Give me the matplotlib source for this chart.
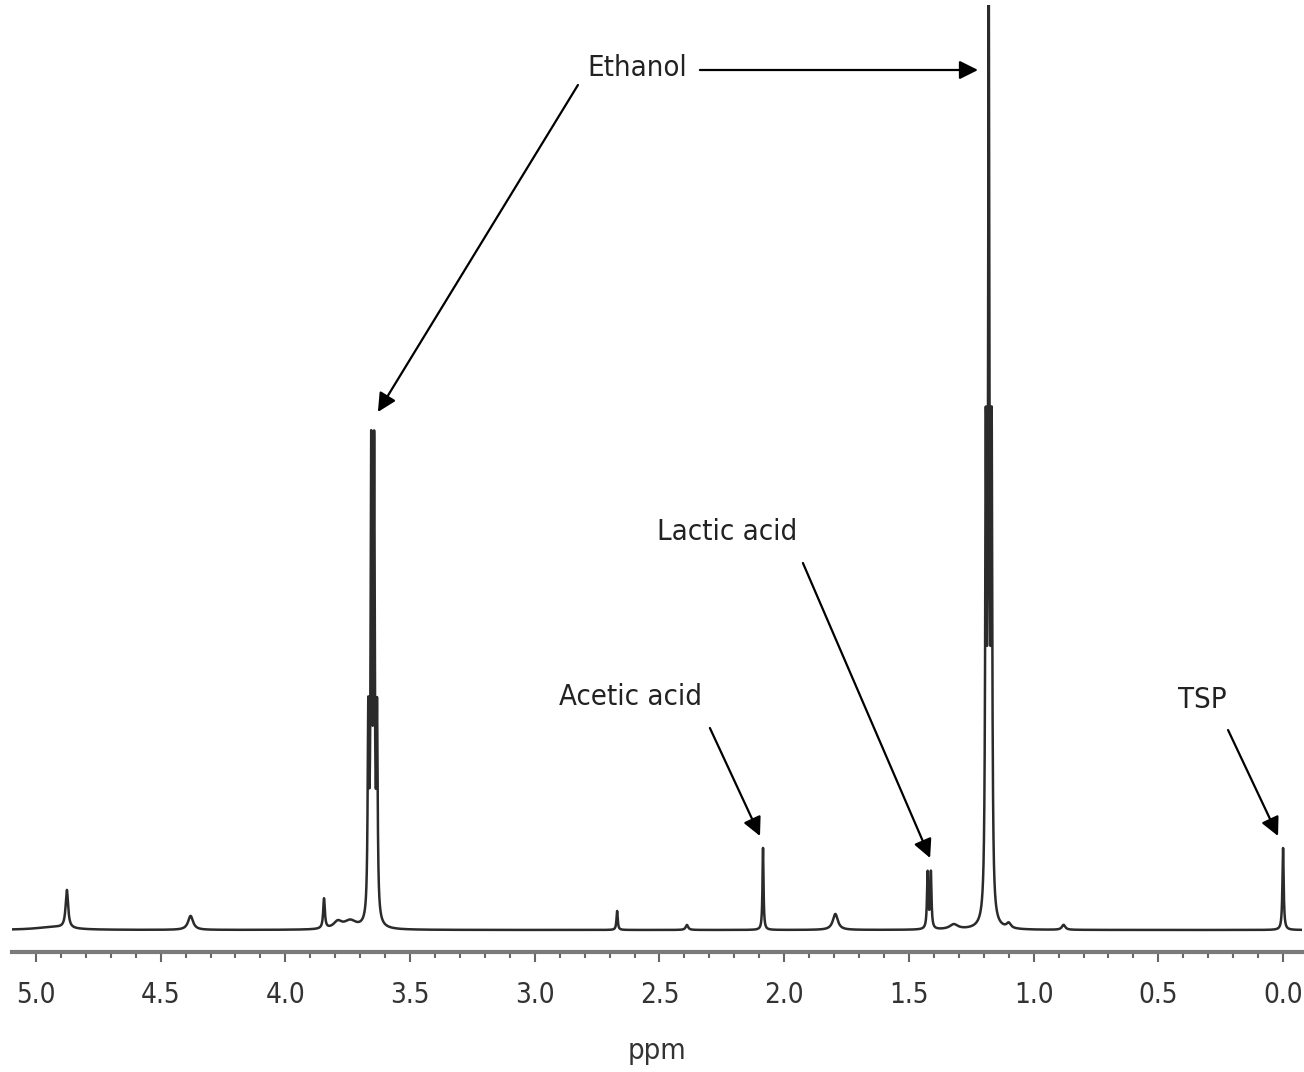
import matplotlib
matplotlib.use('Agg')

import numpy as np
import matplotlib.pyplot as plt

# peak list (ppm, height, half width)
peak_ppm = [4.93, 4.876, 4.38, 3.845, 3.79, 3.74, 3.6675, 3.6558, 3.6442, 3.6325,
            2.67, 2.39, 2.085, 1.795, 1.425, 1.412, 1.32, 1.1917, 1.18, 1.1683,
            1.10, 0.88, 0.0]
peak_height = [3, 38, 14, 30, 7, 8, 195, 455, 455, 195,
               19, 5, 82, 16, 56, 56, 5, 460, 900, 460,
               5, 5, 82]
peak_width = [0.08, 0.006, 0.012, 0.004, 0.02, 0.03, 0.003, 0.003, 0.003, 0.003,
              0.003, 0.006, 0.0025, 0.012, 0.003, 0.003, 0.02, 0.003, 0.003, 0.003,
              0.01, 0.008, 0.003]

labels = ["Ethanol", "Lactic acid", "Acetic acid", "TSP"]
tick_ppm = [5.0, 4.5, 4.0, 3.5, 3.0, 2.5, 2.0, 1.5, 1.0, 0.5, 0.0]

ppm = np.linspace(5.1, -0.08, 30000)
intensity = np.zeros_like(ppm)
for c, h, w in zip(peak_ppm, peak_height, peak_width):
    intensity += h / (1 + ((ppm - c) / w) ** 2)

fig = plt.figure(figsize=(13.04, 10.72), dpi=100)
ax = fig.add_axes([12 / 1304, 120 / 1072, 1290 / 1304, 947 / 1072])
ax.plot(ppm, intensity, color='#2b2b2b', lw=1.8)
ax.set_xlim(5.096, -0.076)
ax.set_ylim(-22, 925)

font = ['DejaVu Sans']
for s in ['top', 'left', 'right']:
    ax.spines[s].set_visible(False)
ax.spines['bottom'].set_color('#7a7a7a')
ax.spines['bottom'].set_linewidth(3)
ax.set_yticks([])
ax.set_xticks(tick_ppm)
ax.set_xticks(np.arange(0, 5.1, 0.1), minor=True)
ax.set_xticklabels([f"{t:.1f}" for t in tick_ppm], family=font, stretch='condensed',
                   fontsize=20, color='#333333')
ax.tick_params(axis='x', which='major', length=7, width=1.5, color='#666666', pad=14)
ax.tick_params(axis='x', which='minor', length=4, width=1.5, color='#666666')
ax.set_xlabel("ppm", family=font, stretch='condensed', fontsize=21, color='#333333', labelpad=20)

arrow = dict(arrowstyle='-|>', color='black', lw=1.6, mutation_scale=28, shrinkA=0, shrinkB=0)
txt = dict(family=font, stretch='condensed', fontsize=21, color='#222222', ha='center', va='center')

ax.text(2.59, 862, labels[0], **txt)
ax.annotate("", xy=(3.629, 518), xytext=(2.827, 845), arrowprops=arrow)
ax.annotate("", xy=(1.223, 860), xytext=(2.338, 860), arrowprops=arrow)

ax.text(2.229, 398, labels[1], **txt)
ax.annotate("", xy=(1.415, 72), xytext=(1.925, 367), arrowprops=arrow)

ax.text(2.618, 233, labels[2], **txt)
ax.annotate("", xy=(2.097, 94), xytext=(2.298, 202), arrowprops=arrow)

ax.text(0.325, 230, labels[3], **txt)
ax.annotate("", xy=(0.02, 94), xytext=(0.2205, 200), arrowprops=arrow)

plt.savefig('out.png', dpi=100)
